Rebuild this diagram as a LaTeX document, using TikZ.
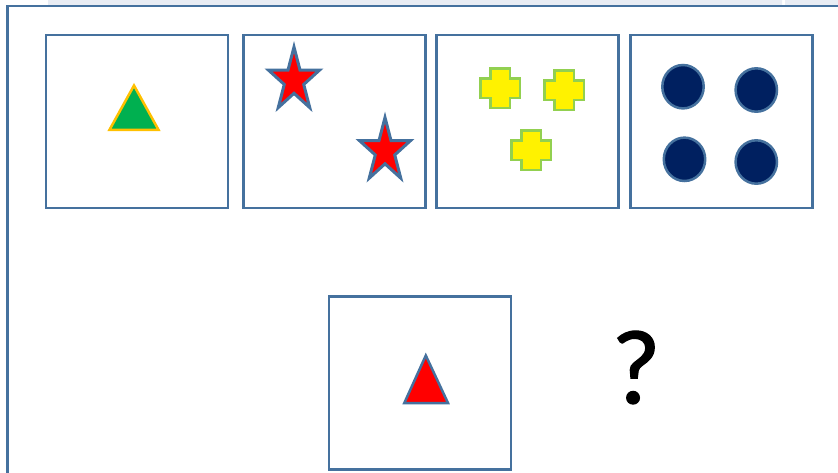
\documentclass[tikz,border=0pt]{standalone}
\usepackage{xcolor}
\usepackage{fontspec}
\setmainfont{Carlito}
\newfontfamily\askfont[FakeBold=1.2]{Carlito}
\usetikzlibrary{positioning}

\definecolor{edgeblue}{HTML}{45719E}
\definecolor{bandgray}{HTML}{E9EDF4}
\definecolor{plusgreen}{HTML}{92D050}
\definecolor{navy}{HTML}{002060}
\definecolor{leafgreen}{HTML}{00B050}
\definecolor{amber}{HTML}{FFC000}

\begin{document}
\begin{tikzpicture}[x=1pt, y=-1pt,
        panel/.style={draw=edgeblue, line width=2.5pt, minimum width=182pt, minimum height=173pt, inner sep=0pt, outer sep=0pt},
        dot/.style={draw=edgeblue, fill=navy, line width=2.5pt},
        pics/redstar/.style={code={
            \draw[draw=edgeblue, fill=red, line width=3pt, xscale=0.8]
            (-90:33.5) \foreach \a in {-54,18,90,162} {-- (\a:12.8) -- (\a+36:33.5)} -- (234:12.8) -- cycle;}},
        pics/plus/.style={code={
            \draw[draw=plusgreen, fill=yellow, line width=2.7pt]
            (-9.75,-19.75) -- (9.75,-19.75) -- (9.75,-9.75) -- (19.75,-9.75) -- (19.75,9.75) -- (9.75,9.75)
            -- (9.75,19.75) -- (-9.75,19.75) -- (-9.75,9.75) -- (-19.75,9.75) -- (-19.75,-9.75) -- (-9.75,-9.75) -- cycle;}}]
        \useasboundingbox (0,0) rectangle (838,472);
%
        \fill[bandgray] (48,0) rectangle (782,5) (785,0) rectangle (838,5);
        \draw[edgeblue, line width=2.5pt] (7.5,480) -- (7.5,6) -- (845,6);
%
        \node[panel] (p1) at (136.85,121.3) {};
        \node[panel, right=15.5pt of p1] (p2) {};
        \node[panel, right=11pt of p2] (p3) {};
        \node[panel, right=12pt of p3] (p4) {};
        \node[panel] (q) at (419.9,383) {};
%
        \draw[draw=amber, fill=leafgreen, line width=2.5pt] (134,85.5) -- (158.5,129.8) -- (109.5,129.8) -- cycle;
        \pic (s1) at (294,80.5) {redstar};
        \pic (s2) at (385,151) {redstar};
        \pic (c1) at (500.3,88.3) {plus};
        \pic (c2) at (564.3,90.3) {plus};
        \pic (c3) at (531.3,150.3) {plus};
        \draw[dot] (683,86.7) ellipse [x radius=20.7pt, y radius=21.7pt];
        \draw[dot] (756.3,90) ellipse [x radius=20.7pt, y radius=21.7pt];
        \draw[dot] (684.5,159.3) ellipse [x radius=20.7pt, y radius=21.7pt];
        \draw[dot] (756.3,162) ellipse [x radius=20.7pt, y radius=21.7pt];
%
        \draw[draw=edgeblue, fill=red, line width=2.5pt] (425.8,355.5) -- (448,403) -- (404.3,403) -- cycle;
        \node[anchor=base, inner sep=0pt, font=\fontsize{106}{106}\askfont] (ask) at (636,403.3) {?};
\end{tikzpicture}
\end{document}
